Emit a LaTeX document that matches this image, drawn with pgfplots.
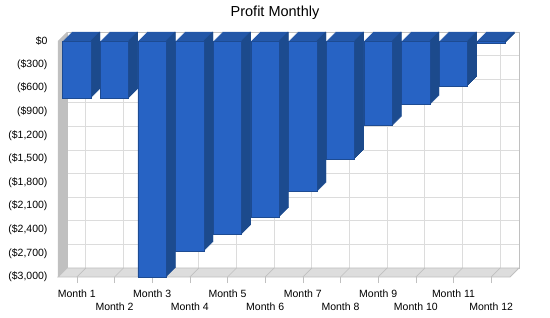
\documentclass[border=0pt]{standalone}
\usepackage{fontspec}
\setmainfont{Liberation Sans}
\usepackage{pgfplots}
\pgfplotsset{compat=1.18}
\usepackage{pgfplotstable}

\definecolor{barfront}{HTML}{2763C4}
\definecolor{bartop}{HTML}{2357A8}
\definecolor{barside}{HTML}{1C4A8C}
\definecolor{baredge}{HTML}{1D4B92}
\definecolor{wallgray}{HTML}{C0C0C0}
\definecolor{floorgray}{HTML}{DDDDDD}
\definecolor{gridgray}{HTML}{DCDCDC}

% monthly profit (negative = loss)
\pgfplotstableread{
month profit
1  -725
2  -725
3  -3000
4  -2670
5  -2455
6  -2235
7  -1915
8  -1500
9  -1075
10 -810
11 -570
12 -25
}\profit

\begin{document}
\begin{tikzpicture}
\useasboundingbox (0,0) rectangle (550bp,318bp);
\node[font=\fontsize{14.5bp}{16bp}\selectfont] at (275bp,305.5bp) {Profit Monthly};
\begin{axis}[
  at={(58bp,41bp)}, anchor=south west,
  scale only axis, width=452bp, height=236bp,
  xmin=0.5, xmax=12.5, ymin=-3000, ymax=0,
  clip=false,
  axis line style={draw=none},
  xtick={1,3,...,11},
  xticklabels={Month 1,Month 3,Month 5,Month 7,Month 9,Month 11},
  extra x ticks={2,4,...,12},
  extra x tick labels={Month 2,Month 4,Month 6,Month 8,Month 10,Month 12},
  extra x tick style={grid=major, xticklabel style={yshift=-13bp}},
  ytick={-3000,-2700,...,0},
  yticklabels={{(\$3,000)},{(\$2,700)},{(\$2,400)},{(\$2,100)},{(\$1,800)},{(\$1,500)},{(\$1,200)},{(\$900)},{(\$600)},{(\$300)},{\$0}},
  grid=major,
  major grid style={draw=gridgray, line width=0.8bp, xshift=9bp, yshift=9bp},
  tick align=outside, major tick length=6bp,
  xtick pos=bottom, ytick pos=left,
  xtick style={draw=wallgray},
  ytick style={draw=none},
  tick label style={font=\fontsize{10.5bp}{12bp}\selectfont},
  xticklabel style={yshift=-3bp},
  yticklabel style={xshift=-1bp},
]
% back wall border
\draw[wallgray, line width=0.8bp] ([shift={(9bp,9bp)}]rel axis cs:0,0) rectangle ([shift={(9bp,9bp)}]rel axis cs:1,1);
% left wall
\fill[wallgray] (rel axis cs:0,0) -- (rel axis cs:0,1) -- ([shift={(9bp,9bp)}]rel axis cs:0,1) -- ([shift={(9bp,9bp)}]rel axis cs:0,0) -- cycle;
% floor
\filldraw[fill=floorgray, draw=wallgray, line width=0.8bp] (rel axis cs:0,0) -- (rel axis cs:1,0) -- ([shift={(9bp,9bp)}]rel axis cs:1,0) -- ([shift={(9bp,9bp)}]rel axis cs:0,0) -- cycle;
\pgfplotsinvokeforeach{1,...,12}{\draw[wallgray, line width=0.6bp] (axis cs:#1,-3000) -- ++(9bp,9bp);}
% bar depth: top faces
\pgfplotsinvokeforeach{1,...,9}{
  \addplot[ybar, bar width=28.5bp, bar shift=0pt, fill=bartop, draw=none, xshift=#1bp, yshift=#1bp] table[x=month,y=profit]{\profit};
}
% bar depth: side faces
\pgfplotsinvokeforeach{1,...,9}{
  \addplot[ybar, bar width=1.3bp, bar shift={14.25bp+#1bp-0.5bp}, fill=barside, draw=none, yshift=#1bp] table[x=month,y=profit]{\profit};
}
% front faces
\addplot[ybar, bar width=28.5bp, bar shift=0pt, fill=barfront, draw=baredge, line width=0.6bp] table[x=month,y=profit]{\profit};
\end{axis}
\end{tikzpicture}
\end{document}
